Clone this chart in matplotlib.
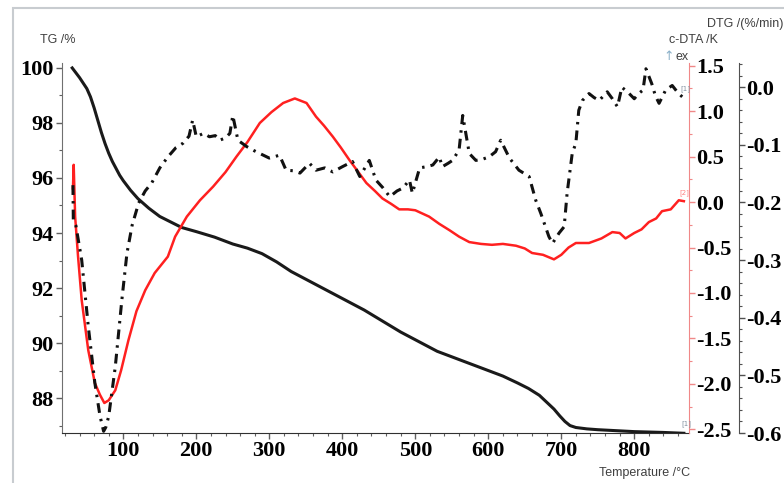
import numpy as np
import matplotlib.pyplot as plt
from matplotlib.patches import Rectangle
from matplotlib.ticker import MultipleLocator

# TG curve
tg_temp = [30, 40, 50, 55, 60, 65, 70, 75, 80, 85, 90, 95, 100, 110, 120, 135, 150, 165, 180,
           200, 225, 250, 270, 290, 310, 330, 355, 380, 405, 430, 455, 480, 505, 530, 555,
           580, 600, 620, 640, 655, 670, 680, 690, 698, 705, 712, 720, 735, 750, 800, 840, 868]
tg_val = [100.0, 99.65, 99.25, 98.95, 98.55, 98.1, 97.65, 97.25, 96.9, 96.6, 96.35, 96.1,
          95.9, 95.55, 95.25, 94.9, 94.6, 94.4, 94.2, 94.05, 93.85, 93.6, 93.45, 93.25, 92.95,
          92.6, 92.25, 91.9, 91.55, 91.2, 90.8, 90.4, 90.05, 89.7, 89.45, 89.2, 89.0, 88.8,
          88.55, 88.35, 88.1, 87.85, 87.6, 87.35, 87.15, 87.0, 86.93, 86.88, 86.85, 86.78,
          86.75, 86.72]

# c-DTA curve
dta_temp = [31, 32, 34, 38, 43, 52, 61, 68, 74, 80, 89, 97, 107, 118, 130, 143, 161, 171,
            187, 205, 223, 240, 255, 270, 287, 303, 319, 335, 351, 364, 375, 387, 398, 410,
            422, 433, 445, 455, 467, 478, 490, 500, 519, 533, 547, 560, 574, 590, 605, 620,
            638, 650, 660, 675, 690, 700, 710, 720, 738, 755, 770, 780, 788, 800, 810, 820,
            830, 838, 850, 861, 868]
dta_val = [0.15, 0.41, -0.16, -0.6, -1.08, -1.63, -1.99, -2.12, -2.21, -2.18, -2.07, -1.85,
           -1.52, -1.2, -0.97, -0.78, -0.6, -0.38, -0.16, 0.02, 0.17, 0.33, 0.5, 0.66, 0.87,
           0.99, 1.09, 1.14, 1.09, 0.94, 0.84, 0.72, 0.6, 0.46, 0.33, 0.21, 0.12, 0.04, -0.02,
           -0.08, -0.08, -0.09, -0.16, -0.24, -0.31, -0.38, -0.44, -0.46, -0.47, -0.46, -0.48,
           -0.51, -0.56, -0.58, -0.63, -0.58, -0.5, -0.45, -0.45, -0.4, -0.33, -0.34, -0.4,
           -0.34, -0.3, -0.22, -0.18, -0.1, -0.08, 0.02, 0.01]

# DTG curve
dtg_temp = [31, 31.5, 35, 43, 52, 61, 68, 73, 76, 80, 89, 98, 105, 112, 121, 130, 139, 150,
            161, 172, 182, 190, 195, 200, 210, 218, 226, 232, 240, 246, 250, 257, 269, 279,
            287, 300, 314, 323, 333, 342, 355, 364, 376, 387, 400, 414, 424, 437, 446, 456,
            465, 475, 483, 492, 496, 506, 515, 524, 533, 537, 545, 551, 560, 565, 574, 583,
            592, 601, 610, 617, 629, 642, 656, 665, 672, 683, 688, 697, 704, 708, 715, 720,
            724, 729, 738, 745, 752, 763, 770, 777, 783, 793, 800, 806, 812, 816, 824, 829,
            834, 843, 852, 860, 866]
dtg_val = [-0.17, -0.23, -0.24, -0.3, -0.415, -0.513, -0.57, -0.597, -0.59, -0.571, -0.485,
           -0.369, -0.288, -0.24, -0.201, -0.18, -0.166, -0.14, -0.121, -0.105, -0.097,
           -0.085, -0.057, -0.086, -0.08, -0.086, -0.084, -0.092, -0.088, -0.08, -0.049,
           -0.092, -0.103, -0.11, -0.115, -0.123, -0.118, -0.144, -0.145, -0.149, -0.132,
           -0.144, -0.14, -0.147, -0.138, -0.129, -0.155, -0.127, -0.161, -0.175, -0.19,
           -0.18, -0.175, -0.161, -0.184, -0.14, -0.138, -0.135, -0.121, -0.138, -0.132,
           -0.127, -0.109, -0.049, -0.115, -0.127, -0.125, -0.121, -0.112, -0.092, -0.123,
           -0.144, -0.155, -0.196, -0.219, -0.259, -0.271, -0.253, -0.242, -0.184, -0.115,
           -0.097, -0.04, -0.023, -0.011, -0.018, -0.023, -0.008, -0.02, -0.034, 0.0, -0.011,
           -0.02, -0.011, -0.005, 0.032, 0.006, -0.015, -0.028, -0.005, 0.003, -0.01, -0.017]

W, H = 784, 483
fig = plt.figure(figsize=(W / 100, H / 100), dpi=100)

# light gray frame of the software window
fig.patches.append(Rectangle((13 / W, -0.05), 1.2, 1 - 8 / H + 0.05, transform=fig.transFigure,
                             fill=False, edgecolor='#c8ccd0', linewidth=1.5))

left, right, bottom, top = 62 / W, 689 / W, 1 - 433 / H, 1 - 63 / H
ax = fig.add_axes([left, bottom, right - left, top - bottom])
ax.patch.set_alpha(0)
ax2 = ax.twinx()
ax3 = ax.twinx()

tick_font = dict(family='Liberation Serif', weight='bold', size=16)
label_font = dict(family='Liberation Sans', size=9, color='#404040')

ax.plot(tg_temp, tg_val, color='#1a1a1a', linewidth=2.2, zorder=3)
ax2.plot(dta_temp, dta_val, color='#ff2020', linewidth=1.8)
ax3.plot(dtg_temp, dtg_val, color='#111111', linewidth=2.2, linestyle=(0, (3.2, 2, 0.8, 2)))

ax.set_xlim(16, 875)
ax.set_ylim(86.73, 100.18)
ax2.set_ylim(-2.54, 1.53)
ax3.set_ylim(-0.6, 0.042)

ax.spines['top'].set_visible(False)
ax.spines['right'].set_visible(False)
ax.spines['left'].set_color('#707070')
ax.spines['bottom'].set_color('#303030')
for a in (ax2, ax3):
    a.spines['top'].set_visible(False)
    a.spines['left'].set_visible(False)
    a.spines['bottom'].set_visible(False)
ax2.spines['right'].set_color('#f08888')
ax3.spines['right'].set_position(('axes', 677 / 627))
ax3.spines['right'].set_color('#505050')

ax.xaxis.set_minor_locator(MultipleLocator(20))
ax.set_xticks(range(100, 900, 100))
ax.yaxis.set_minor_locator(MultipleLocator(1))
ax.set_yticks(range(88, 101, 2))
ax2.set_yticks([-2.5, -2.0, -1.5, -1.0, -0.5, 0.0, 0.5, 1.0, 1.5])
ax2.yaxis.set_minor_locator(MultipleLocator(0.25))
ax3.set_yticks([-0.6, -0.5, -0.4, -0.3, -0.2, -0.1, 0.0])
ax3.yaxis.set_minor_locator(MultipleLocator(0.02))

ax.tick_params(axis='both', which='major', length=4, width=1, color='#606060', pad=2)
ax.tick_params(axis='both', which='minor', length=2.5, width=0.8, color='#606060')
ax2.tick_params(axis='y', which='major', length=4, width=1, color='#f08888', pad=1)
ax2.tick_params(axis='y', which='minor', length=2.5, width=0.8, color='#f08888')
ax3.tick_params(axis='y', which='major', length=4, width=1, color='#505050', pad=1)
ax3.tick_params(axis='y', which='minor', length=2.5, width=0.8, color='#505050')

ax.set_xticklabels([str(t) for t in range(100, 900, 100)], **tick_font)
ax.set_yticklabels([str(t) for t in range(88, 101, 2)], **tick_font)
ax2.set_yticklabels(['-2.5', '-2.0', '-1.5', '-1.0', '-0.5', '0.0', '0.5', '1.0', '1.5'],
                    **tick_font)
ax3.set_yticklabels(['-0.6', '-0.5', '-0.4', '-0.3', '-0.2', '-0.1', '0.0'], **tick_font)

# axis titles as in the instrument software
fig.text(40 / W, 1 - 40 / H, 'TG /%', va='center', ha='left', **label_font)
fig.text(690 / W, 1 - 473 / H, 'Temperature /°C', va='center', ha='right', **label_font)
fig.text(783 / W, 1 - 24 / H, 'DTG /(%/min)', va='center', ha='right', **label_font)
fig.text(718 / W, 1 - 40 / H, 'c-DTA /K', va='center', ha='right', **label_font)
fig.text(663 / W, 1 - 57 / H, '↑', va='center', ha='left', family='DejaVu Sans', size=9,
         color='#8ab0c8')
fig.text(676 / W, 1 - 57 / H, 'ex', va='center', ha='left', **label_font)

# curve markers
fig.text(681 / W, 1 - 424 / H, '[1]', va='center', ha='left', size=5, color='#8090a0')
fig.text(679 / W, 1 - 193 / H, '[2]', va='center', ha='left', size=5, color='#ff8080')
fig.text(680 / W, 1 - 89 / H, '[1]', va='center', ha='left', size=5, color='#8090a0')

fig.savefig('out.png', dpi=100)
